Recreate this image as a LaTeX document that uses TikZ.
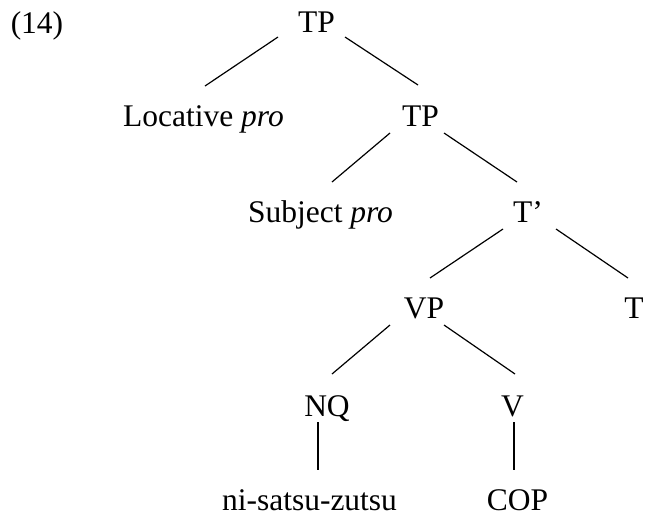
\documentclass[tikz,border=0pt]{standalone}
\usepackage{fontspec}
\setmainfont{Liberation Serif}
\usetikzlibrary{calc}
\begin{document}
\begin{tikzpicture}[x=1pt,y=-1pt,
  lbl/.style={anchor=base,inner sep=0pt,font=\fontsize{31.5}{38}\selectfont},
  edge/.style={draw=black,line width=1.2pt}]
\useasboundingbox (0,0) rectangle (645,515);

% example number
\node[lbl] (num) at (37,33) {(14)};

% tree labels (placed on their baselines)
\node[lbl] (tp)   at (316.5,32)  {TP};
\node[lbl] (loc)  at (203.5,126.5) {Locative \textit{pro}};
\node[lbl] (tpb)  at (420.5,126.5) {TP};
\node[lbl] (subj) at (320.5,222) {Subject \textit{pro}};
\node[lbl] (tbar) at (528,222)   {T’};
\node[lbl] (vp)   at (424,318)   {VP};
\node[lbl] (t)    at (634,318)   {T};
\node[lbl] (nq)   at (327,416)   {NQ};
\node[lbl] (v)    at (512.5,416) {V};
\node[lbl] (ni)   at (309.5,510) {ni-satsu-zutsu};
\node[lbl] (cop)  at (517.5,510) {COP};

% branches
\draw[edge] ($(tp.base)+(-38.5,5)$)  -- ($(loc.base)+(1.5,-40.5)$);
\draw[edge] ($(tp.base)+(28.5,5)$)   -- ($(tpb.base)+(-2.5,-41.5)$);
\draw[edge] ($(tpb.base)+(-30.5,6.5)$) -- ($(subj.base)+(11.5,-40)$);
\draw[edge] ($(tpb.base)+(23.5,6.5)$)  -- ($(tbar.base)+(-11,-40)$);
\draw[edge] ($(tbar.base)+(-25,7)$)  -- ($(vp.base)+(6,-40)$);
\draw[edge] ($(tbar.base)+(28,7)$)   -- ($(t.base)+(-6,-40)$);
\draw[edge] ($(vp.base)+(-34,7)$)    -- ($(nq.base)+(5,-42)$);
\draw[edge] ($(vp.base)+(20,7)$)     -- ($(v.base)+(2.5,-42)$);
\draw[edge] ($(nq.base)+(-9,6)$)     -- ($(ni.base)+(8.5,-40)$);
\draw[edge] ($(v.base)+(1.5,6)$)     -- ($(cop.base)+(-3.5,-40)$);
\end{tikzpicture}
\end{document}
